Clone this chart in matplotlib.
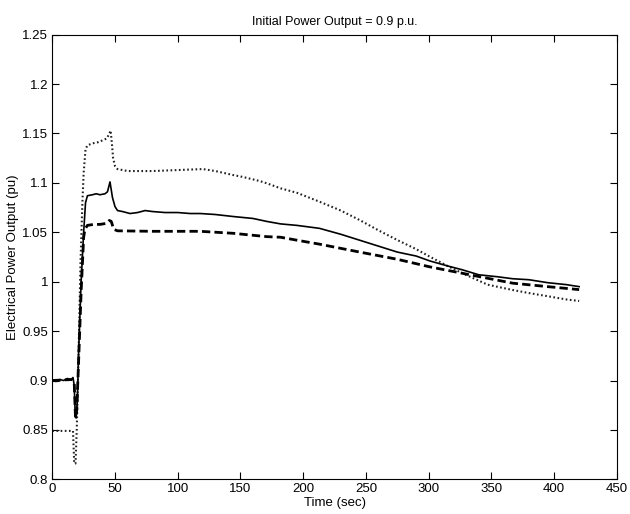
import matplotlib
matplotlib.use("Agg")
import matplotlib.pyplot as plt

# solid trace
t_solid = [0, 3, 6, 9, 12, 15, 16.5, 17.5, 18.3, 19, 20, 21, 23, 25, 26.5, 28, 32, 35, 38, 42,
           44, 46, 48, 50, 52, 56, 62, 68, 74, 80, 90, 100, 110, 118, 130, 144, 160, 171, 182,
           195, 213, 230, 245, 260, 275, 290, 301, 315, 327, 340, 355, 367, 380, 395, 410, 420]
p_solid = [0.900, 0.899, 0.901, 0.900, 0.902, 0.901, 0.903, 0.895, 0.864, 0.862, 0.880, 0.930,
           1.000, 1.050, 1.080, 1.087, 1.088, 1.089, 1.088, 1.089, 1.091, 1.101, 1.085, 1.076,
           1.072, 1.071, 1.069, 1.070, 1.072, 1.071, 1.070, 1.070, 1.069, 1.069, 1.068, 1.066,
           1.064, 1.061, 1.0585, 1.057, 1.054, 1.048, 1.042, 1.036, 1.030, 1.026, 1.021, 1.016,
           1.012, 1.007, 1.005, 1.003, 1.002, 0.999, 0.997, 0.995]

# dashed trace
t_dash = [0, 16, 17.5, 18.5, 19.5, 21, 23, 25, 26, 28, 33, 38, 43, 45.5, 47, 49, 52, 80, 118,
          144, 171, 182, 195, 213, 245, 275, 301, 327, 367, 395, 420]
p_dash = [0.900, 0.901, 0.897, 0.862, 0.870, 0.920, 0.990, 1.045, 1.053, 1.057, 1.058, 1.058,
          1.059, 1.062, 1.061, 1.053, 1.0515, 1.051, 1.051, 1.049, 1.0456, 1.045, 1.042, 1.038,
          1.030, 1.0227, 1.015, 1.0085, 0.9985, 0.995, 0.992]

# dotted trace
t_dot = [0, 10, 16.5, 17.5, 18.5, 19.5, 21, 22.5, 24, 25, 26.5, 28, 32, 36, 40, 43.5, 45.5,
         46.5, 47.5, 48.5, 50, 52, 60, 80, 100, 120, 130, 144, 152, 165, 171, 182, 195, 213,
         230, 245, 260, 275, 290, 301, 315, 327, 347, 367, 380, 394, 410, 420]
p_dot = [0.849, 0.849, 0.849, 0.816, 0.816, 0.850, 0.930, 1.020, 1.080, 1.110, 1.134, 1.138,
         1.140, 1.141, 1.143, 1.145, 1.150, 1.153, 1.140, 1.125, 1.117, 1.114, 1.112, 1.112,
         1.113, 1.114, 1.112, 1.108, 1.106, 1.102, 1.0996, 1.0945, 1.090, 1.081, 1.072, 1.0624,
         1.052, 1.0422, 1.033, 1.0253, 1.016, 1.0085, 0.997, 0.9916, 0.9885, 0.9855, 0.982,
         0.9805]

x_ticks = [0, 50, 100, 150, 200, 250, 300, 350, 400, 450]
y_ticks = [0.8, 0.85, 0.9, 0.95, 1.0, 1.05, 1.1, 1.15, 1.2, 1.25]
y_labels = ["0.8", "0.85", "0.9", "0.95", "1", "1.05", "1.1", "1.15", "1.2", "1.25"]

plt.rcParams["font.family"] = ["Liberation Sans", "DejaVu Sans"]
plt.rcParams["font.size"] = 9.5

fig = plt.figure(figsize=(6.3, 5.14), dpi=100)
ax = fig.add_axes([0.083, 0.0675, 0.896, 0.865])

ax.plot(t_dot, p_dot, ":", color="#222222", lw=1.5, dashes=(0.8, 1.2))
ax.plot(t_dash, p_dash, "--", color="k", lw=2.0, dashes=(3, 1.5))
ax.plot(t_solid, p_solid, "-", color="k", lw=1.2)

ax.set_xlim(0, 450); ax.set_ylim(0.8, 1.25)
ax.set_xticks(x_ticks); ax.set_yticks(y_ticks); ax.set_yticklabels(y_labels)
ax.tick_params(direction="in", top=True, right=True, length=5, width=0.8, pad=3)
for s in ax.spines.values():
    s.set_linewidth(0.8)

ax.set_xlabel("Time (sec)", labelpad=1)
ax.set_ylabel("Electrical Power Output (pu)", labelpad=2)
ax.set_title("Initial Power Output = 0.9 p.u.", pad=7, fontsize=9)

fig.savefig("out.png", dpi=100)
